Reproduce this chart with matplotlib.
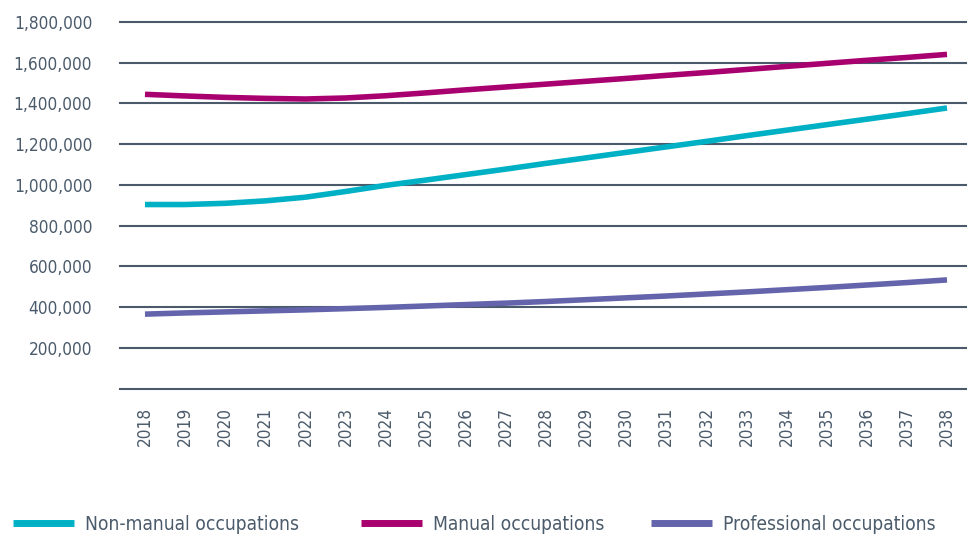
import matplotlib
matplotlib.use("Agg")
import matplotlib.pyplot as plt
from matplotlib import font_manager
from matplotlib.ticker import FuncFormatter

years = list(range(2018, 2039))

non_manual = [904, 904, 910, 922, 940, 968, 998, 1024, 1051, 1078, 1106,
              1133, 1160, 1187, 1214, 1242, 1269, 1296, 1323, 1350, 1378]
manual = [1445, 1437, 1430, 1425, 1422, 1427, 1438, 1452, 1467, 1481, 1495,
          1509, 1523, 1538, 1552, 1567, 1582, 1597, 1612, 1626, 1641]
professional = [366, 372, 377, 382, 387, 393, 399, 406, 413, 420, 428,
                437, 446, 455, 465, 475, 486, 497, 509, 521, 534]

non_manual = [v * 1000 for v in non_manual]
manual = [v * 1000 for v in manual]
professional = [v * 1000 for v in professional]

labels = ["Non-manual occupations", "Manual occupations", "Professional occupations"]
colors = ["#00b0c4", "#a8006f", "#6464ac"]

# pick the narrowest font that is around
installed = {f.name for f in font_manager.fontManager.ttflist}
condensed_dv = any(f.name == "DejaVu Sans" and str(f.stretch) in ("condensed", "semi-condensed")
                   for f in font_manager.fontManager.ttflist)
font_kw = {}
if "Liberation Sans Narrow" in installed:
    font_kw = dict(family="Liberation Sans Narrow")
    fsize = 15.5
elif condensed_dv:
    font_kw = dict(family="DejaVu Sans", stretch="condensed")
    fsize = 12.4
else:
    font_kw = dict(family="Roboto")
    fsize = 13
leg_size = fsize * 1.11

txt = "#4b5b6b"

fig = plt.figure(figsize=(9.76, 5.42), dpi=100)
ax = fig.add_axes([120 / 976, 153.3 / 542, 846 / 976, 366.7 / 542])

lines = []
for vals, col, lab in zip([non_manual, manual, professional], colors, labels):
    ln, = ax.plot(years, vals, color=col, lw=4, label=lab, solid_capstyle="butt", zorder=3)
    lines.append(ln)

ax.set_xlim(2017.377, 2038.474)
ax.set_ylim(0, 1800000)
ax.set_yticks(range(0, 1800001, 200000))
ax.yaxis.set_major_formatter(FuncFormatter(lambda v, p: "" if v == 0 else f"{int(v):,}"))
ax.set_xticks(years)
ax.set_xticklabels([str(y) for y in years], rotation=90)

ax.grid(axis="y", color="#4a5a6a", lw=1.5)
ax.set_axisbelow(True)
for gl in ax.get_ygridlines():
    gl.set_clip_on(False)
for s in ax.spines.values():
    s.set_visible(False)
ax.tick_params(axis="both", length=0, colors=txt, labelsize=fsize)
ax.tick_params(axis="y", pad=20)
ax.tick_params(axis="x", pad=13)
for t in ax.get_xticklabels() + ax.get_yticklabels():
    t.set(**font_kw)

# legend entries placed one by one along the bottom
starts = [13, 361, 651]
for ln, x0 in zip(lines, starts):
    leg = fig.legend(handles=[ln], loc="center left", bbox_to_anchor=(x0 / 976, 18 / 542),
                     frameon=False, borderpad=0, borderaxespad=0, handlelength=61 / (leg_size * 100 / 72),
                     handletextpad=0.55, prop=dict(size=leg_size, **font_kw))
    leg.get_lines()[0].set_linewidth(5)
    for t in leg.get_texts():
        t.set_color(txt)

fig.savefig("out.png", dpi=100)
